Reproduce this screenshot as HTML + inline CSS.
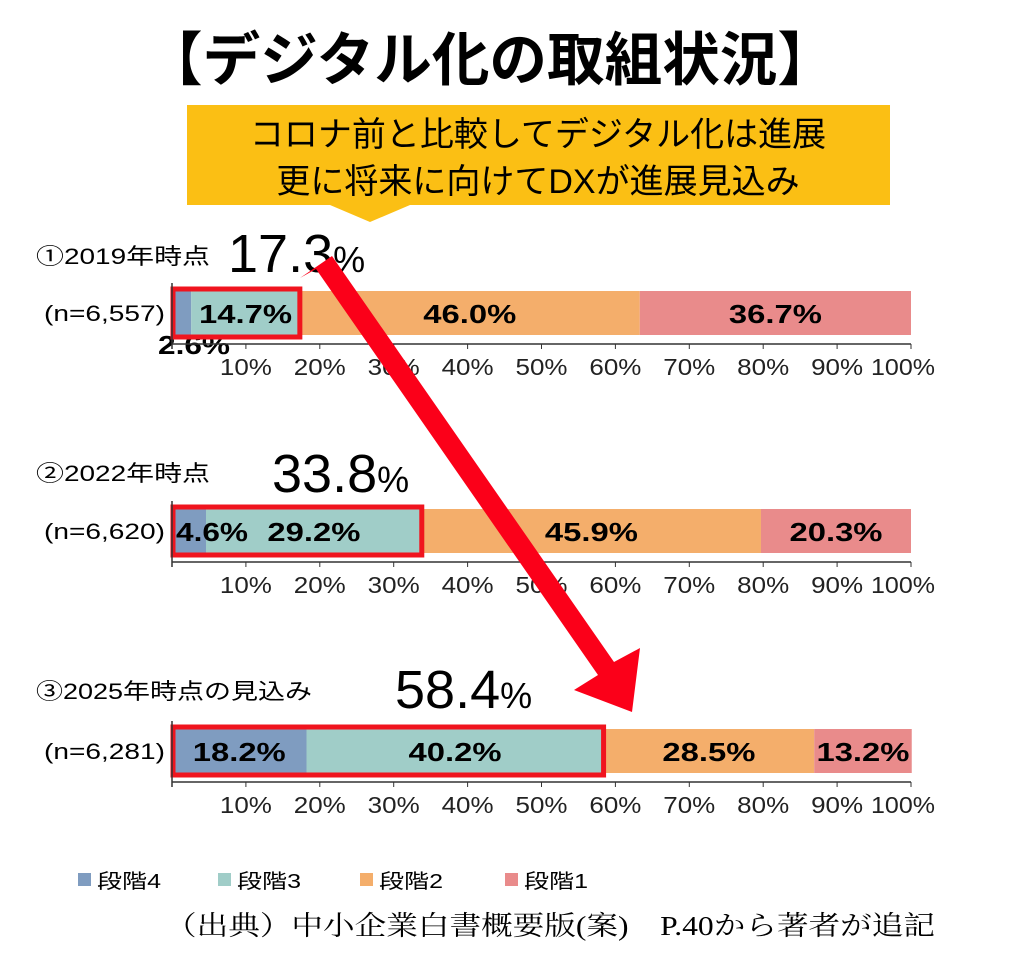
<!DOCTYPE html>
<html><head><meta charset="utf-8"><style>
body{margin:0;background:#fff;width:1014px;height:972px;overflow:hidden;font-family:"Liberation Sans","Noto Sans CJK JP",sans-serif}
</style></head><body>
<svg id="c" width="1014" height="972" xmlns="http://www.w3.org/2000/svg" font-family="Liberation Sans, Noto Sans CJK JP, sans-serif">
<text x="145" y="80" font-size="58" font-weight="bold" textLength="690" lengthAdjust="spacingAndGlyphs">【デジタル化の取組状況】</text>
<path d="M187,105 H890 V205 H410 L370,222 L330,205 H187 Z" fill="#fbbf14"/>
<text x="538" y="146" font-size="34" text-anchor="middle">コロナ前と比較してデジタル化は進展</text>
<text x="538" y="193" font-size="34" text-anchor="middle">更に将来に向けてDXが進展見込み</text>
<g id="charts"></g>
<g id="legend"></g>
<text x="165" y="935" font-size="27" textLength="770" lengthAdjust="spacingAndGlyphs" font-family="Liberation Serif, Noto Serif CJK SC, serif">（出典）中小企業白書概要版(案)　P.40から著者が追記</text>
</svg>
<script>
const NS="http://www.w3.org/2000/svg";
const rowLabels=["①2019年時点","②2022年時点","③2025年時点の見込み"];
const nLabels=["(n=6,557)","(n=6,620)","(n=6,281)"];
const totals=["17.3","33.8","58.4"];
const stage4=[2.6,4.6,18.2];
const stage3=[14.7,29.2,40.2];
const stage2=[46.0,45.9,28.5];
const stage1=[36.7,20.3,13.2];
const ticks=[10,20,30,40,50,60,70,80,90,100];
const seriesNames=["段階4","段階3","段階2","段階1"];
const colors=["#7f9cc0","#a0cdc8","#f4ae6b","#e98b8b"];
const x0=172,x1=911;
const xs=v=>x0+(x1-x0)*v/100;
const rowTop=[291,509,729];
const bh=44;
const g=document.getElementById('charts');
function mk(tag,attrs,parent,text){const e=document.createElementNS(NS,tag);for(const k in attrs)e.setAttribute(k,attrs[k]);if(text!==undefined)e.textContent=text;(parent||g).appendChild(e);return e;}
const series=[stage4,stage3,stage2,stage1];
const rowLabelY=[264,481,699];
const rowLabelW=[174,174,276];
const totalX=[228,272,395];
const totalY=[272,492,708];
for(let r=0;r<3;r++){
  const top=rowTop[r], axY=top+bh+9;
  let t=mk('text',{x:36,y:rowLabelY[r],'font-size':22,textLength:rowLabelW[r],lengthAdjust:'spacingAndGlyphs'});t.textContent=rowLabels[r];
  
  
  t=mk('text',{x:totalX[r],y:totalY[r],'font-size':54});t.textContent=totals[r];
  
  
  mk('tspan',{'font-size':36},t,'%');
  t=mk('text',{x:44,y:top+bh/2+8,'font-size':22,textLength:121,lengthAdjust:'spacingAndGlyphs'});t.textContent=nLabels[r];
  
  
  let acc=0;
  for(let s=0;s<4;s++){
    const v=series[s][r];
    const rect=mk('rect',{x:xs(acc),y:top,width:xs(acc+v)-xs(acc),height:bh,fill:colors[s]});
    
    
    acc+=v;
  }
  acc=0;
  for(let s=0;s<4;s++){
    const v=series[s][r];
    const w=xs(acc+v)-xs(acc);
    const txt=v.toFixed(1)+'%';
    const tl=txt.length>=5?93:72;
    let lab;
    if(w>=95){
      lab=mk('text',{x:(xs(acc)+xs(acc+v))/2,y:top+bh/2+10,'font-size':26,'font-weight':'bold','text-anchor':'middle',textLength:tl,lengthAdjust:'spacingAndGlyphs'});
    } else if(w>25){
      lab=mk('text',{x:xs(acc)+4,y:top+bh/2+10,'font-size':26,'font-weight':'bold',textLength:tl,lengthAdjust:'spacingAndGlyphs'});
    } else {
      lab=mk('text',{x:xs(acc)-14,y:top+bh+19,'font-size':26,'font-weight':'bold',textLength:tl,lengthAdjust:'spacingAndGlyphs'});
    }
    lab.textContent=txt;
    
    
    acc+=v;
  }
  const hl=stage4[r]+stage3[r];
  const box=mk('rect',{x:x0+1,y:top-2,width:xs(hl)-x0-1,height:bh+4,fill:'none',stroke:'#f0141e','stroke-width':5});
  
  
  const ax=mk('path',{d:`M${x0},${top-8} V${axY+5} M${x0},${axY} H${x1}`,stroke:'#333','stroke-width':1.5,fill:'none'});
  
  
  for(const tv of ticks){
    const tk=mk('line',{x1:xs(tv),x2:xs(tv),y1:axY,y2:axY+5,stroke:'#333'});
    
    
    const tl=mk('text',{x:xs(tv)-(tv==100?8:0),y:axY+31,'font-size':23,'text-anchor':'middle',fill:'#222',textLength:tv==100?64:52,lengthAdjust:'spacingAndGlyphs'});
    tl.textContent=tv+'%';
    
    
  }
}
const arrow=mk('path',{d:'M300,278 L332,256 L614,662 L640,648 L632,712 L574,690 L598,675 L316,269 Z',fill:'#fb0019'});


const lg=document.getElementById('legend');
const legX=[78,218,360,505];
for(let s=0;s<4;s++){
  const sw=mk('rect',{x:legX[s],y:873,width:13,height:13,fill:colors[s]},lg);
  
  
  const lt=mk('text',{x:legX[s]+19,y:888,'font-size':20,textLength:64,lengthAdjust:'spacingAndGlyphs'},lg);
  lt.textContent=seriesNames[s];
  
  
}
</script>
</body></html>
